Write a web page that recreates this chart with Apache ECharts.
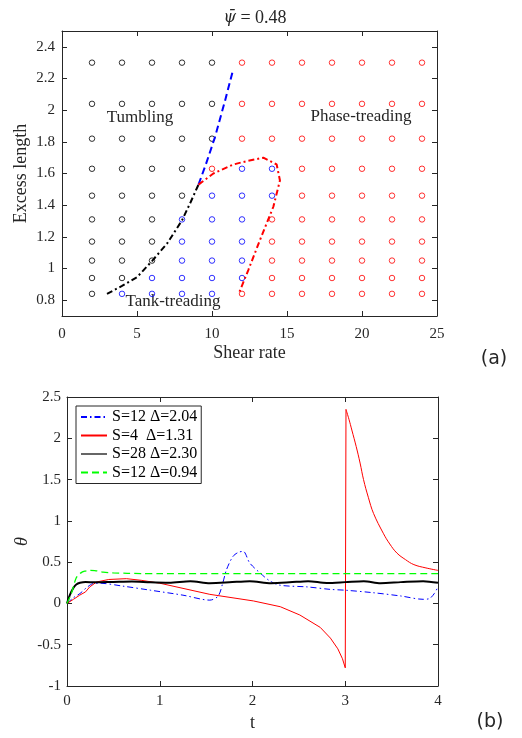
<!DOCTYPE html>
<html><head><meta charset="utf-8">
<script src="https://cdn.jsdelivr.net/npm/echarts@6/dist/echarts.min.js"></script>
<style>html,body{margin:0;padding:0;background:#fff}#c{width:522px;height:738px}</style>
</head><body><div id="c"></div>
<script>
// ---------- panel (a) data ----------
const shearRates = [2,4,6,8,10,12,14,16,18,20,22,24];
const excessLengths = [0.84,0.94,1.05,1.17,1.31,1.46,1.63,1.82,2.04,2.30];
// T = tumbling (black), K = tank-treading (blue), P = phase-treading (red); rows bottom->top
const regimeRows = [
  'TKKKKPPPPPPP',
  'TTKKKKPPPPPP',
  'TTTKKKPPPPPP',
  'TTTKKKPPPPPP',
  'TTTKKKPPPPPP',
  'TTTTKKKPPPPP',
  'TTTTPKKPPPPP',
  'TTTTTPPPPPPP',
  'TTTTTPPPPPPP',
  'TTTTTPPPPPPP'
];
const tumbTankX = [3.0,4.0,5.0,6.0,7.0,8.0,8.58,9.1];
const tumbTankY = [0.84,0.89,0.945,1.047,1.157,1.304,1.42,1.53];
const tumbPhaseX = [9.1,9.6,10.2,10.87,11.42];
const tumbPhaseY = [1.53,1.66,1.83,2.06,2.26];
const tankPhaseX = [9.1,10.09,11.42,12.4,13.42,14.31,14.53,14.09,13.2,12.42,11.82];
const tankPhaseY = [1.53,1.60,1.657,1.68,1.70,1.657,1.556,1.39,1.18,0.99,0.85];
const xTicksA = [0,5,10,15,20,25];
const yTicksA = [0.8,1.0,1.2,1.4,1.6,1.8,2.0,2.2,2.4];

// ---------- panel (b) data ----------
const seriesNamesB = ['S=12 Δ=2.04','S=4  Δ=1.31','S=28 Δ=2.30','S=12 Δ=0.94'];
const tBlue = [0,0.07,0.14,0.21,0.28,0.35,0.6,0.9,1.25,1.54,1.63,1.68,1.72,1.79,1.85,1.90,1.97,2.08,2.19,2.30,2.59,2.84,3.0,3.3,3.6,3.84,3.91,3.96,4.0];
const thBlue = [0,0.07,0.12,0.19,0.24,0.245,0.21,0.16,0.10,0.04,0.09,0.25,0.41,0.57,0.62,0.63,0.49,0.37,0.27,0.22,0.20,0.17,0.16,0.13,0.09,0.05,0.06,0.12,0.20];
// red: before the flip (up to the vertical jump) and after it
const tRedA = [0,0.07,0.137,0.2,0.245,0.32,0.45,0.64,0.8,1.0,1.54,2.01,2.3,2.51,2.73,2.84,2.92,2.97,3.0,3.008];
const thRedA = [0,0.05,0.10,0.14,0.20,0.26,0.29,0.30,0.28,0.245,0.11,0.03,-0.04,-0.14,-0.29,-0.42,-0.55,-0.67,-0.78,2.35];
const tRedB = [3.008,3.04,3.071,3.118,3.16,3.197,3.25,3.305,3.41,3.48,3.557,3.65,3.74,3.87,4.0];
const thRedB = [2.35,2.23,2.10,1.90,1.70,1.50,1.28,1.09,0.85,0.72,0.61,0.53,0.47,0.43,0.40];
const tBlack = [0,0.03,0.07,0.1,0.14,0.2,0.3,0.5,0.7,0.9,1.1,1.33,1.54,1.75,1.97,2.2,2.4,2.6,2.8,3.0,3.2,3.38,3.6,3.84,4.0];
const thBlack = [0,0.10,0.19,0.23,0.25,0.26,0.255,0.26,0.265,0.255,0.25,0.268,0.245,0.255,0.27,0.245,0.255,0.27,0.248,0.258,0.27,0.245,0.258,0.27,0.25];
const tGreen = [0,0.047,0.1,0.15,0.19,0.245,0.3,0.39,0.5,0.65,0.8,1.0,2.0,3.0,4.0];
const thGreen = [0,0.12,0.31,0.37,0.39,0.40,0.398,0.38,0.37,0.365,0.362,0.362,0.362,0.362,0.362];
const xTicksB = [0,1,2,3,4];
const yTicksB = [-1,-0.5,0,0.5,1,1.5,2,2.5];

// ---------- build ----------
const zip = (a,b) => a.map((v,i)=>[v,b[i]]);
const regimeColor = {T:'#000000', K:'#0000ff', P:'#ff0000'};
const pts = {T:[],K:[],P:[]};
regimeRows.forEach((row,ri)=>{
  row.split('').forEach((c,ci)=>{ pts[c].push([shearRates[ci], excessLengths[ri]]); });
});
const AX = '#262626';
const SERIF = '"Liberation Serif", "Times New Roman", serif';

function axisBase(o){
  return Object.assign({
    type:'value',
    axisLine:{show:true, onZero:false, lineStyle:{color:AX, width:1}},
    splitLine:{show:false},
    nameMoveOverlap:false
  }, o);
}
const tick = vals => ({show:true, inside:true, length:5, lineStyle:{color:AX}, customValues:vals});
const lab = (vals, margin) => ({color:AX, fontFamily:SERIF, fontSize:15, margin:margin, customValues:vals});

const option = {
  animation:false,
  backgroundColor:'#fff',
  title:{
    text:'{i|ψ̄}{n| = 0.48}',
    left:250, top:4, textAlign:'center',
    textStyle:{fontWeight:'normal', rich:{
      i:{fontFamily:'"DejaVu Serif"', fontStyle:'italic', fontWeight:'normal', fontSize:16, color:AX},
      n:{fontFamily:SERIF, fontWeight:'normal', fontSize:18, color:AX}
    }}
  },
  grid:[
    {left:62, top:31, width:375, height:285, containLabel:false},
    {left:67, top:397, width:371, height:289, containLabel:false}
  ],
  xAxis:[
    axisBase({gridIndex:0, position:'bottom', min:0, max:25,
      name:'Shear rate', nameLocation:'middle', nameGap:28,
      nameTextStyle:{fontFamily:SERIF, fontSize:18, color:AX},
      axisTick:tick(xTicksA), axisLabel:lab(xTicksA, 11)}),
    axisBase({gridIndex:0, position:'top', min:0, max:25,
      axisTick:tick(xTicksA), axisLabel:{show:false}}),
    axisBase({gridIndex:1, position:'bottom', min:0, max:4,
      name:'t', nameLocation:'middle', nameGap:28,
      nameTextStyle:{fontFamily:SERIF, fontSize:18, color:AX},
      axisTick:tick(xTicksB), axisLabel:lab(xTicksB, 8)}),
    axisBase({gridIndex:1, position:'top', min:0, max:4,
      axisTick:tick(xTicksB), axisLabel:{show:false}})
  ],
  yAxis:[
    axisBase({gridIndex:0, position:'left', min:0.7, max:2.5,
      name:'Excess length', nameLocation:'middle', nameGap:32,
      nameTextStyle:{fontFamily:SERIF, fontSize:18, color:AX},
      axisTick:tick(yTicksA), axisLabel:lab(yTicksA, 7)}),
    axisBase({gridIndex:0, position:'right', min:0.7, max:2.5,
      axisTick:tick(yTicksA), axisLabel:{show:false}}),
    axisBase({gridIndex:1, position:'left', min:-1, max:2.5,
      name:'θ', nameLocation:'middle', nameGap:36,
      nameTextStyle:{fontFamily:SERIF, fontSize:18, fontStyle:'italic', color:AX},
      axisTick:tick(yTicksB), axisLabel:lab(yTicksB, 6)}),
    axisBase({gridIndex:1, position:'right', min:-1, max:2.5,
      axisTick:tick(yTicksB), axisLabel:{show:false}})
  ],
  legend:{
    data:[
      {name:seriesNamesB[0]},
      {name:seriesNamesB[1]},
      {name:seriesNamesB[2], lineStyle:{width:1.2, color:'#000'}},
      {name:seriesNamesB[3]}
    ],
    orient:'vertical', left:76, top:406,
    itemWidth:26, itemHeight:14, itemGap:2.5, itemTextGap:2,
    padding:[3,4,3,4],
    itemStyle:{opacity:0},
    backgroundColor:'#fff', borderColor:AX, borderWidth:1, borderRadius:0,
    textStyle:{fontFamily:SERIF, fontSize:16, color:'#000'}
  },
  graphic:[
    {type:'text', x:140, y:118, style:{text:'Tumbling', font:'17px "Liberation Serif"', fill:AX, align:'center', verticalAlign:'middle'}},
    {type:'text', x:361, y:117, style:{text:'Phase-treading', font:'17px "Liberation Serif"', fill:AX, align:'center', verticalAlign:'middle'}},
    {type:'text', x:173, y:302, style:{text:'Tank-treading', font:'17px "Liberation Serif"', fill:AX, align:'center', verticalAlign:'middle'}},
    {type:'text', x:494, y:359, style:{text:'(a)', font:'19px "DejaVu Sans"', fill:AX, align:'center', verticalAlign:'middle'}},
    {type:'text', x:490, y:722, style:{text:'(b)', font:'19px "DejaVu Sans"', fill:AX, align:'center', verticalAlign:'middle'}}
  ],
  series:[
    ...['T','K','P'].map(k=>({
      type:'scatter', xAxisIndex:0, yAxisIndex:0, data:pts[k], symbol:'circle', symbolSize:5.5, z:2,
      itemStyle:{color:'transparent', borderColor:regimeColor[k], borderWidth:1}, silent:true
    })),
    {type:'line', xAxisIndex:0, yAxisIndex:0, data:zip(tumbTankX,tumbTankY), symbol:'none', z:3,
      lineStyle:{color:'#000', width:2, type:[6,3,2,3]}},
    {type:'line', xAxisIndex:0, yAxisIndex:0, data:zip(tumbPhaseX,tumbPhaseY), symbol:'none', z:3,
      lineStyle:{color:'#0000ff', width:2, type:[7,4]}},
    {type:'line', xAxisIndex:0, yAxisIndex:0, data:zip(tankPhaseX,tankPhaseY), symbol:'none', z:3,
      lineStyle:{color:'#ff0000', width:2, type:[6,3,2,3]}},
    {name:seriesNamesB[0], type:'line', xAxisIndex:2, yAxisIndex:2, data:zip(tBlue,thBlue), symbol:'none', smooth:0.3,
      lineStyle:{color:'#0000ff', width:1, type:[6,3,1.5,3]}, itemStyle:{color:'#0000ff'}},
    {name:seriesNamesB[1], type:'line', xAxisIndex:2, yAxisIndex:2, data:zip(tRedA,thRedA), symbol:'none',
      lineStyle:{color:'#ff0000', width:1}, itemStyle:{color:'#ff0000'}},
    {name:seriesNamesB[1], type:'line', xAxisIndex:2, yAxisIndex:2, data:zip(tRedB,thRedB), symbol:'none', smooth:0.4,
      lineStyle:{color:'#ff0000', width:1}, itemStyle:{color:'#ff0000'}},
    {name:seriesNamesB[2], type:'line', xAxisIndex:2, yAxisIndex:2, data:zip(tBlack,thBlack), symbol:'none', smooth:0.3,
      lineStyle:{color:'#000', width:2}, itemStyle:{color:'#000'}},
    {name:seriesNamesB[3], type:'line', xAxisIndex:2, yAxisIndex:2, data:zip(tGreen,thGreen), symbol:'none', smooth:0.3,
      lineStyle:{color:'#00ff00', width:1.3, type:[7,4]}, itemStyle:{color:'#00ff00'}}
  ]
};
const chart = echarts.init(document.getElementById('c'), null, {renderer:'canvas'});
chart.setOption(option);
</script></body></html>
